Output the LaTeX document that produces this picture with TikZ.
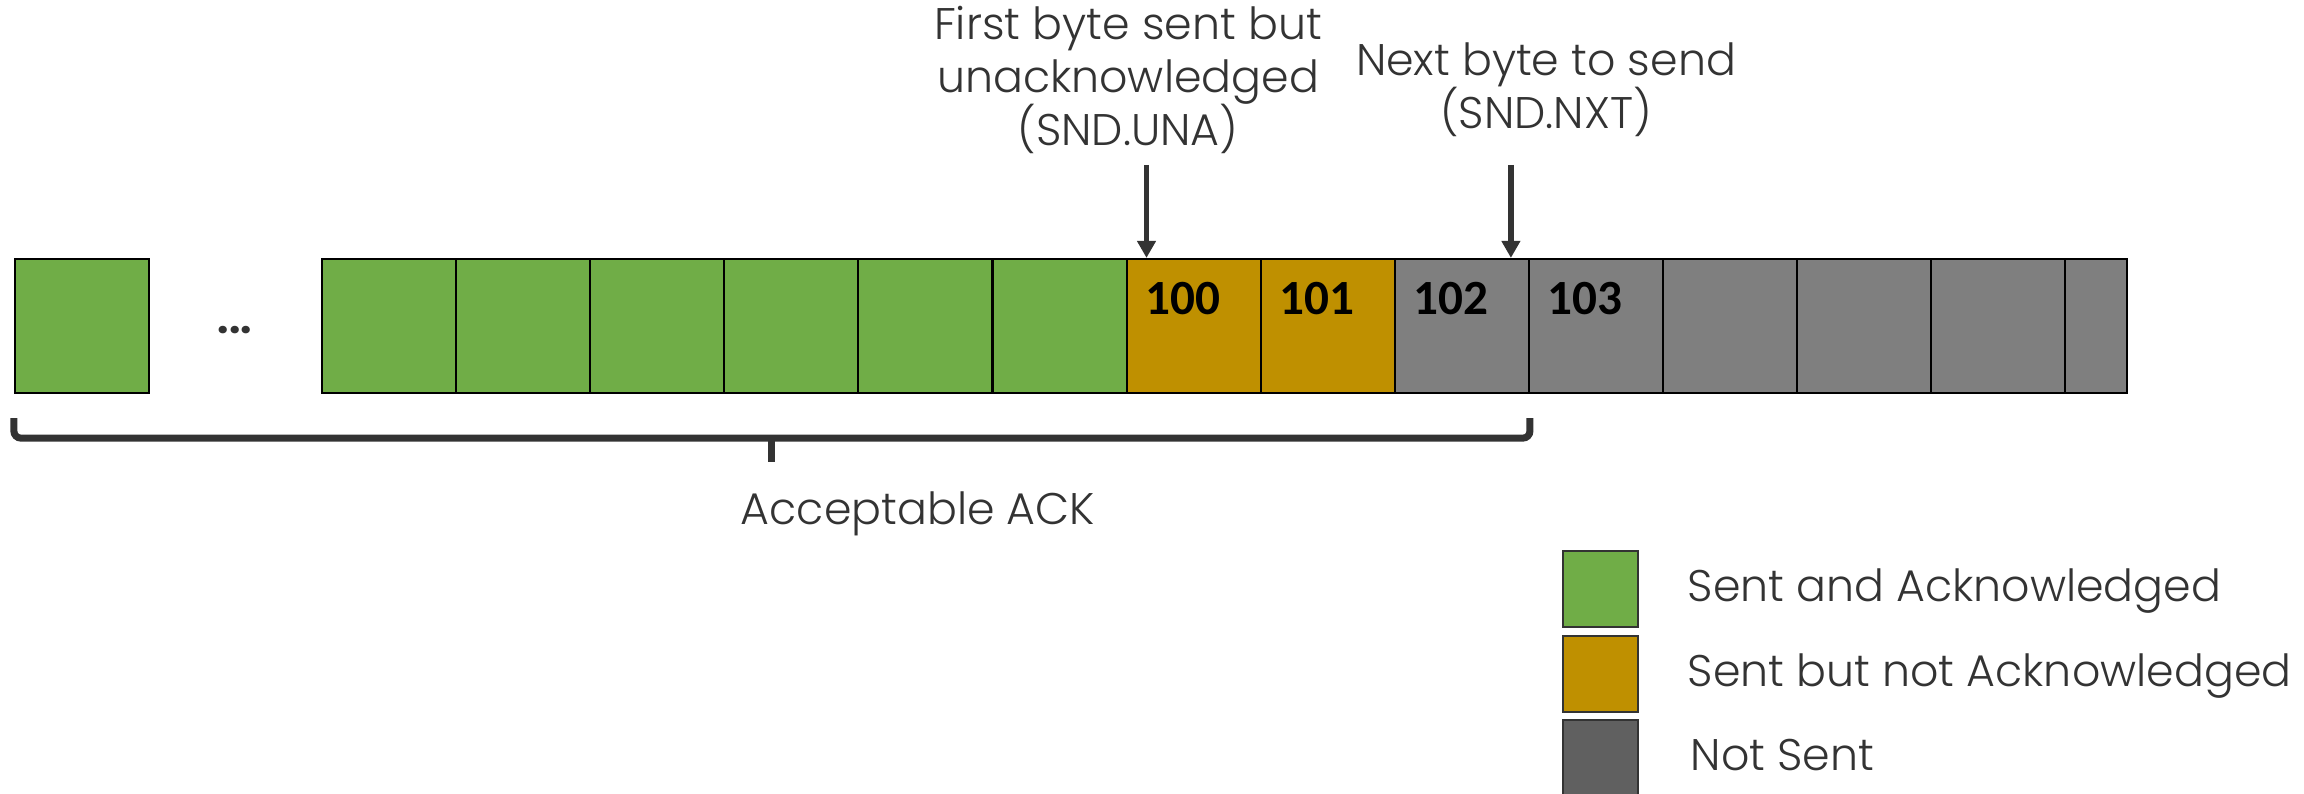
\documentclass[tikz,border=0pt]{standalone}
\usepackage{fontspec}
\setmainfont{Poppins}[UprightFont=* Light, BoldFont=* Bold]
\newfontfamily\seqfont{Carlito}
\usetikzlibrary{positioning, calc, arrows.meta}

\definecolor{ackgreen}{HTML}{70AD47}
\definecolor{unagold}{HTML}{BF9000}
\definecolor{unsentgray}{HTML}{7F7F7F}
\definecolor{keygray}{HTML}{606060}
\definecolor{inkgray}{HTML}{333333}

\begin{document}
\begin{tikzpicture}[node distance=13.41mm, on grid,
    cell/.style={draw=black, line width=0.6pt, minimum size=13.41mm, inner sep=0pt},
    acked/.style={cell, fill=ackgreen},
    inflight/.style={cell, fill=unagold},
    unsent/.style={cell, fill=unsentgray},
    seq/.style={font=\seqfont\bfseries\fontsize{14}{15}\selectfont, anchor=north west, inner sep=0pt},
    txt/.style={text=inkgray, font=\fontsize{12.6}{15.2}\selectfont, align=center, inner sep=0pt},
    keybox/.style={draw=black!80, line width=0.5pt, minimum width=7.5mm, minimum height=7.6mm, inner sep=0pt},
    ptr/.style={draw=inkgray, line width=1.6pt, -{Triangle[length=1.7mm, width=1.8mm]}},
    brace/.style={draw=inkgray, line width=2pt, rounded corners=2pt}
  ]

    \useasboundingbox (0,0) rectangle (23.04,-7.93);

    % send buffer
    \node[acked] (c0) at (0.82,-3.26) {};
    \node[txt, font=\bfseries\fontsize{11.5}{14}\selectfont] (dots) at (2.35,-3.30) {...};
    \node[acked] (g1) at (3.89,-3.26) {};
    \node[acked, right=of g1] (g2) {};
    \node[acked, right=of g2] (g3) {};
    \node[acked, right=of g3] (g4) {};
    \node[acked, right=of g4] (g5) {};
    \node[acked, right=of g5] (g6) {};
    \node[inflight, right=of g6] (u100) {};
    \node[inflight, right=of u100] (u101) {};
    \node[unsent, right=of u101] (n102) {};
    \node[unsent, right=of n102] (n103) {};
    \node[unsent, right=of n103] (n1) {};
    \node[unsent, right=of n1] (n2) {};
    \node[unsent, right=of n2] (n3) {};
    \node[unsent, minimum width=6.2mm, right=0.98cm of n3] (n4) {};

    % sequence numbers
    \node[seq] (l100) at ([xshift=1.9mm,yshift=-2.4mm]u100.north west) {100};
    \node[seq] (l101) at ([xshift=1.9mm,yshift=-2.4mm]u101.north west) {101};
    \node[seq] (l102) at ([xshift=1.9mm,yshift=-2.4mm]n102.north west) {102};
    \node[seq] (l103) at ([xshift=1.9mm,yshift=-2.4mm]n103.north west) {103};

    % pointers
    \node[txt] (una) at (11.28,-0.80) {First byte sent but\\unacknowledged\\(SND.UNA)};
    \node[txt] (nxt) at (15.46,-0.90) {Next byte to send\\(SND.NXT)};
    \coordinate (unatip) at ([xshift=2.1mm]u100.north west);
    \coordinate (nxttip) at ([xshift=-1.9mm]n102.north east);
    \draw[ptr] ($(unatip |- una.south)+(0,-1.0mm)$) -- (unatip);
    \draw[ptr] ($(nxttip |- una.south)+(0,-1.0mm)$) -- (nxttip);

    % acceptable ack range
    \coordinate (bl) at ([yshift=-2.4mm]c0.south west);
    \coordinate (br) at ([yshift=-2.4mm]n102.south east);
    \draw[brace] (bl) -- ++(0,-2mm) -- ($(br)+(0,-2mm)$) -- (br);
    \draw[brace, rounded corners=0pt] ($(bl)!0.5!(br)+(0,-2mm)$) -- ++(0,-2.4mm);
    \node[txt, anchor=mid] (ack) at (9.18,-5.15) {Acceptable ACK};

    % legend
    \node[keybox, fill=ackgreen] (k1) at (16.005,-5.89) {};
    \node[keybox, fill=unagold, below=0.85cm of k1] (k2) {};
    \node[keybox, fill=keygray, below=0.84cm of k2] (k3) {};
    \node[txt, anchor=mid west] (t1) at ([xshift=8.65mm,yshift=-0.3mm]k1.center) {Sent and Acknowledged};
    \node[txt, anchor=mid west] (t2) at ([xshift=8.65mm,yshift=-0.3mm]k2.center) {Sent but not Acknowledged};
    \node[txt, anchor=mid west] (t3) at ([xshift=8.95mm,yshift=-0.3mm]k3.center) {Not Sent};

\end{tikzpicture}
\end{document}
